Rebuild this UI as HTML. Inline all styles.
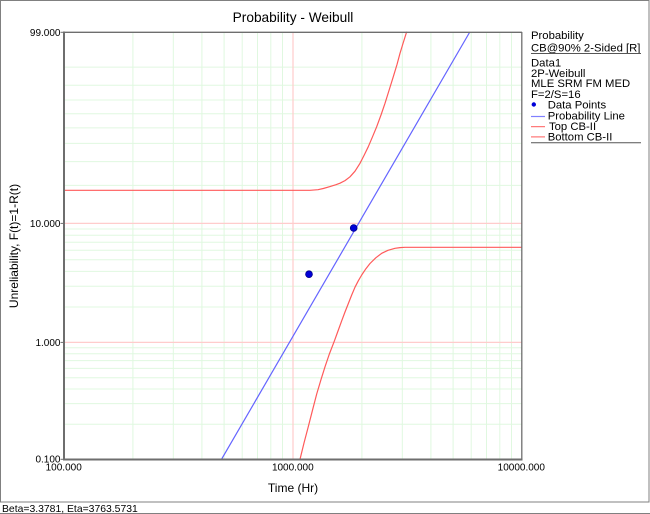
<!DOCTYPE html>
<html>
<head>
<meta charset="utf-8">
<style>
html,body{margin:0;padding:0;background:#fff;}
svg{display:block;}
text{font-family:"Liberation Sans",Arial,sans-serif;fill:#000;}
</style>
</head>
<body>
<svg width="650" height="514" viewBox="0 0 650 514" xmlns="http://www.w3.org/2000/svg">
<rect x="0" y="0" width="650" height="514" fill="#fff"/>
<!-- outer frame -->
<rect x="0.5" y="0.5" width="648.5" height="501.5" fill="none" stroke="#808080" stroke-width="1"/>
<line x1="0" y1="513.5" x2="650" y2="513.5" stroke="#808080" stroke-width="1"/>
<text x="2" y="512" font-size="10.4">Beta=3.3781, Eta=3763.5731</text>

<!-- title -->
<text x="293" y="22" font-size="13.7" text-anchor="middle">Probability - Weibull</text>

<!-- horizontal green gridlines -->
<g stroke="#e0f8e0" stroke-width="1">
<line x1="64" x2="522" y1="67.1" y2="67.1"/>
<line x1="64" x2="522" y1="85.3" y2="85.3"/>
<line x1="64" x2="522" y1="100" y2="100"/>
<line x1="64" x2="522" y1="113.8" y2="113.8"/>
<line x1="64" x2="522" y1="127.9" y2="127.9"/>
<line x1="64" x2="522" y1="143.4" y2="143.4"/>
<line x1="64" x2="522" y1="161.6" y2="161.6"/>
<line x1="64" x2="522" y1="185.4" y2="185.4"/>
<line x1="64" x2="522" y1="229" y2="229"/>
<line x1="64" x2="522" y1="235.2" y2="235.2"/>
<line x1="64" x2="522" y1="242.3" y2="242.3"/>
<line x1="64" x2="522" y1="250.3" y2="250.3"/>
<line x1="64" x2="522" y1="259.8" y2="259.8"/>
<line x1="64" x2="522" y1="271.4" y2="271.4"/>
<line x1="64" x2="522" y1="286.2" y2="286.2"/>
<line x1="64" x2="522" y1="307" y2="307"/>
<line x1="64" x2="522" y1="347.8" y2="347.8"/>
<line x1="64" x2="522" y1="353.8" y2="353.8"/>
<line x1="64" x2="522" y1="360.6" y2="360.6"/>
<line x1="64" x2="522" y1="368.4" y2="368.4"/>
<line x1="64" x2="522" y1="377.7" y2="377.7"/>
<line x1="64" x2="522" y1="389" y2="389"/>
<line x1="64" x2="522" y1="403.6" y2="403.6"/>
<line x1="64" x2="522" y1="424.2" y2="424.2"/>
</g>
<!-- vertical green gridlines -->
<g stroke="#e0f8e0" stroke-width="1">
<line y1="32" y2="459" x1="132.9" x2="132.9"/>
<line y1="32" y2="459" x1="173.3" x2="173.3"/>
<line y1="32" y2="459" x1="201.9" x2="201.9"/>
<line y1="32" y2="459" x1="224.1" x2="224.1"/>
<line y1="32" y2="459" x1="242.2" x2="242.2"/>
<line y1="32" y2="459" x1="257.5" x2="257.5"/>
<line y1="32" y2="459" x1="270.8" x2="270.8"/>
<line y1="32" y2="459" x1="282.5" x2="282.5"/>
<line y1="32" y2="459" x1="361.9" x2="361.9"/>
<line y1="32" y2="459" x1="402.3" x2="402.3"/>
<line y1="32" y2="459" x1="430.9" x2="430.9"/>
<line y1="32" y2="459" x1="453.1" x2="453.1"/>
<line y1="32" y2="459" x1="471.2" x2="471.2"/>
<line y1="32" y2="459" x1="486.5" x2="486.5"/>
<line y1="32" y2="459" x1="499.8" x2="499.8"/>
<line y1="32" y2="459" x1="511.5" x2="511.5"/>
</g>
<!-- red major gridlines -->
<g stroke="#ffcccc" stroke-width="1.2">
<line x1="64" x2="522" y1="223.4" y2="223.4"/>
<line x1="64" x2="522" y1="342.4" y2="342.4"/>
<line y1="32" y2="459" x1="293" x2="293"/>
</g>

<!-- curves -->
<polyline fill="none" stroke="#ff5a5a" stroke-width="1.2" stroke-linejoin="round" points="64,190.3 310,190.3 318,189.7 323.3,188.5 330,186.6 336,184.7 340,183.2 345,180.6 350,176.8 355,171.2 360,163.3 364,155.5 368.3,146.7 372.5,136.8 376.7,126.7 381,115 385,103.3 389,90.5 393.3,76.7 397,64.5 400,53.3 403.3,42.5 406.7,31.7"/>
<polyline fill="none" stroke="#ff5a5a" stroke-width="1.2" stroke-linejoin="round" points="300,459.3 304,443 308.3,426.6 312.5,410.2 316.7,394 321,379.6 325,366.8 329.5,353.6 334.3,341.2 338,331 341.7,320.8 345,312 348.3,303.6 351.7,295 355,287.2 358.3,280.8 361.7,275 366,268.6 370,263.5 375.8,257.8 381.7,253.3 388,250.3 395,248.3 400,247.6 405,247.3 522,247.3"/>
<line x1="221.5" y1="459.3" x2="469.8" y2="32" stroke="#6464ff" stroke-width="1.2"/>

<!-- data points -->
<circle cx="309" cy="274.2" r="3.4" fill="#0000d8" stroke="#00008a" stroke-width="0.8"/>
<circle cx="353.7" cy="228" r="3.4" fill="#0000d8" stroke="#00008a" stroke-width="0.8"/>

<!-- axes -->
<g stroke="#6e6e6e">
<line x1="63" y1="32.3" x2="522" y2="32.3" stroke-width="1.3"/>
<line x1="521.8" y1="32" x2="521.8" y2="460" stroke-width="1.3"/>
<line x1="64" y1="31.5" x2="64" y2="460.3" stroke-width="2"/>
<line x1="63" y1="459.5" x2="522.5" y2="459.5" stroke-width="2"/>
<line x1="60.5" y1="32.3" x2="64" y2="32.3" stroke-width="1"/>
<line x1="60.5" y1="223.4" x2="64" y2="223.4" stroke-width="1"/>
<line x1="60.5" y1="342.4" x2="64" y2="342.4" stroke-width="1"/>
<line x1="60.5" y1="459.3" x2="64" y2="459.3" stroke-width="1"/>
</g>

<!-- tick labels -->
<g font-size="10">
<text x="60.5" y="35.8" text-anchor="end">99.000</text>
<text x="60.5" y="226.9" text-anchor="end">10.000</text>
<text x="60.5" y="345.9" text-anchor="end">1.000</text>
<text x="60.5" y="462.5" text-anchor="end">0.100</text>
<text x="63.7" y="470.5" text-anchor="middle">100.000</text>
<text x="292.8" y="470.5" text-anchor="middle">1000.000</text>
<text x="521.3" y="470.5" text-anchor="middle">10000.000</text>
</g>

<!-- axis titles -->
<text x="293" y="492" font-size="12" text-anchor="middle">Time (Hr)</text>
<text transform="translate(18,246) rotate(-90)" font-size="12" text-anchor="middle">Unreliability, F(t)=1-R(t)</text>

<!-- legend -->
<g font-size="11.3">
<text x="531" y="39">Probability</text>
<text x="531" y="51.5">CB@90% 2-Sided [R]</text>
<text x="531" y="66.3">Data1</text>
<text x="531" y="76.8">2P-Weibull</text>
<text x="531" y="87.2">MLE SRM FM MED</text>
<text x="531" y="97.8">F=2/S=16</text>
<text x="547.7" y="108.3">Data Points</text>
<text x="547.7" y="119.3">Probability Line</text>
<text x="549" y="130">Top CB-II</text>
<text x="547.7" y="140.7">Bottom CB-II</text>
</g>
<line x1="531" y1="53.5" x2="641" y2="53.5" stroke="#555" stroke-width="1"/>
<line x1="531" y1="142.7" x2="641" y2="142.7" stroke="#555" stroke-width="1"/>
<circle cx="533.8" cy="104.5" r="2.2" fill="#0000d8"/>
<line x1="531" y1="116.5" x2="545" y2="116.5" stroke="#8080ff" stroke-width="1.2"/>
<line x1="531" y1="126.7" x2="545" y2="126.7" stroke="#ff5a5a" stroke-width="1"/>
<line x1="531" y1="136.9" x2="545" y2="136.9" stroke="#ff5a5a" stroke-width="1"/>
</svg>
</body>
</html>
